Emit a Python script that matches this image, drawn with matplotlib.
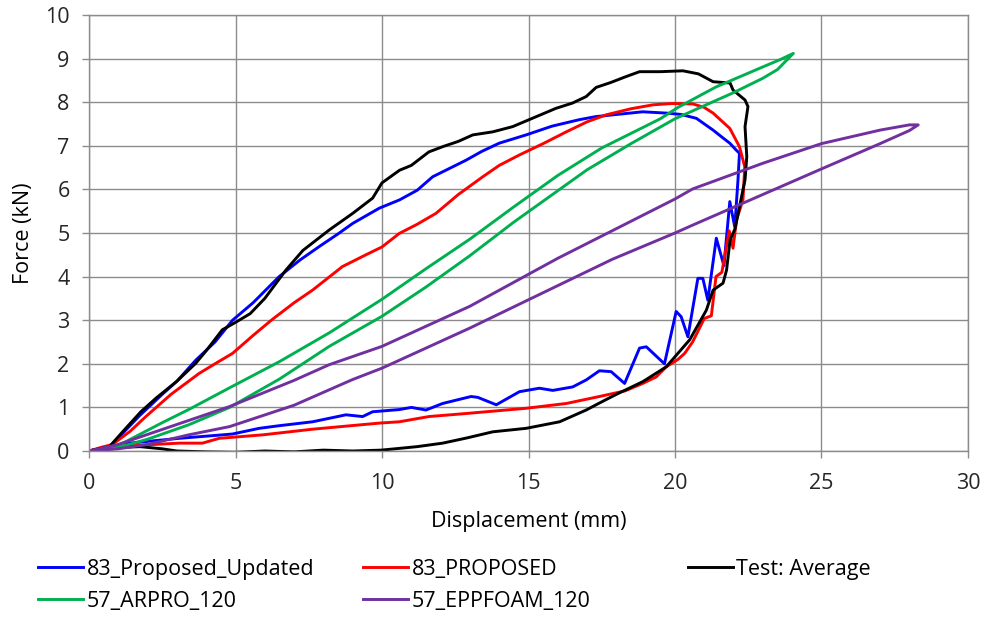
import matplotlib
matplotlib.use("Agg")
import matplotlib.pyplot as plt
from matplotlib import font_manager

# pick a font close to Calibri
names = {f.name for f in font_manager.fontManager.ttflist}
family = "DejaVu Sans"
for cand in ["Liberation Sans Narrow", "Open Sans", "Lato"]:
    if cand in names:
        family = cand
        break
plt.rcParams["font.family"] = family

# --- data ---
# Test: Average (loading then unloading)
test_x = [0, 0.7, 1.2, 1.77, 2.3, 3.0, 3.64, 4.0, 4.55, 5.0, 5.5, 6.0, 6.72, 7.3, 8.2, 9.0, 9.68,
          10.0, 10.6, 11.0, 11.6, 12.07, 12.6, 13.1, 13.78, 14.46, 15.2, 15.94, 16.5, 16.97, 17.31,
          17.8, 18.3, 18.79, 19.5, 20.27, 20.8, 21.3, 21.88, 21.98, 22.39, 22.49, 22.39, 22.45,
          22.39, 22.2, 22.05, 21.88, 21.76, 21.64, 21.3, 21.07, 20.5, 19.7, 18.9, 18.0, 17.42,
          16.97, 16.06, 14.92, 13.78, 12.9, 12.07, 11.2, 10.59, 9.97, 9.0, 8.0, 7.0, 6.0, 5.0,
          4.0, 3.0, 2.5, 1.74, 1.0, 0.5, 0]
test_y = [0, 0.1, 0.48, 0.9, 1.22, 1.6, 2.01, 2.3, 2.78, 2.95, 3.15, 3.5, 4.15, 4.6, 5.07, 5.45, 5.8,
          6.15, 6.44, 6.55, 6.86, 6.98, 7.1, 7.25, 7.32, 7.44, 7.65, 7.86, 7.98, 8.13, 8.34,
          8.45, 8.58, 8.7, 8.7, 8.72, 8.65, 8.47, 8.44, 8.28, 8.05, 7.9, 7.44, 6.75,
          6.22, 5.6, 5.1, 4.84, 4.15, 3.85, 3.69, 3.23, 2.55, 1.93, 1.59, 1.3, 1.1,
          0.94, 0.67, 0.52, 0.44, 0.3, 0.18, 0.1, 0.06, 0.02, 0.0, 0.02, -0.02, 0.0, -0.03,
          -0.02, 0.0, 0.05, 0.1, 0.08, 0.04, 0]

# 83_Proposed_Updated
upd_x = [0, 0.7, 1.0, 1.71, 2.5, 3.0, 3.64, 4.3, 4.9, 5.6, 6.49, 7.2, 7.86, 8.5, 9.0, 9.91, 10.6,
         11.2, 11.73, 12.3, 12.87, 13.4, 14.0, 14.92, 15.8, 16.74, 17.3, 17.88, 18.9, 19.7, 20.2,
         20.73, 21.3, 21.6, 21.87, 22.09, 22.2,
         22.15, 22.04, 21.87, 21.67, 21.41, 21.12, 20.95, 20.78, 20.44, 20.21, 20.04, 19.64,
         19.02, 18.79, 18.28, 17.82, 17.42, 16.97, 16.51, 15.83, 15.37, 14.69, 13.9, 13.27,
         13.04, 12.07, 11.5, 11.0, 10.59, 9.68, 9.34, 8.77, 7.63, 6.49, 5.81, 4.9, 4.55, 3.07,
         1.37, 0]
upd_y = [0, 0.1, 0.3, 0.8, 1.3, 1.6, 2.08, 2.5, 3.0, 3.4, 4.0, 4.38, 4.69, 4.98, 5.22, 5.57, 5.76,
         5.98, 6.29, 6.48, 6.67, 6.87, 7.06, 7.25, 7.45, 7.6, 7.67, 7.71, 7.78, 7.75, 7.72,
         7.63, 7.36, 7.2, 7.06, 6.9, 6.83,
         6.22, 5.14, 5.72, 4.25, 4.88, 3.46, 3.96, 3.96, 2.62, 3.08, 3.2, 2.0,
         2.39, 2.36, 1.55, 1.82, 1.84, 1.63, 1.47, 1.39, 1.44, 1.36, 1.06, 1.23,
         1.25, 1.09, 0.94, 1.0, 0.95, 0.9, 0.79, 0.83, 0.67, 0.58, 0.52, 0.39, 0.37, 0.29,
         0.18, 0]

# 83_PROPOSED
prop_x = [0, 0.4, 0.8, 1.4, 1.94, 2.8, 3.76, 4.3, 4.9, 5.6, 6.26, 7.0, 7.63, 8.65, 9.45, 10.0,
          10.59, 11.2, 11.84, 12.6, 13.44, 14.0, 14.69, 15.5, 16.29, 17.0, 17.65, 18.5, 19.25,
          19.9, 20.61, 21.0, 21.3, 21.87, 22.2, 22.38,
          22.32, 22.1, 21.98, 21.85, 21.6, 21.4, 21.24, 21.0, 20.6, 20.33, 20.1, 19.7, 19.36,
          18.9, 18.3, 17.42, 16.29, 14.92, 12.87, 11.6, 10.59, 9.91, 7.63, 5.92, 4.44, 3.87,
          3.07, 1.94, 0.8, 0]
prop_y = [0, 0.08, 0.15, 0.45, 0.79, 1.3, 1.78, 2.0, 2.24, 2.65, 3.02, 3.4, 3.69, 4.23, 4.5, 4.68,
          4.99, 5.2, 5.45, 5.88, 6.29, 6.55, 6.79, 7.05, 7.32, 7.55, 7.71, 7.85, 7.94,
          7.97, 7.96, 7.88, 7.75, 7.4, 6.98, 6.52,
          5.76, 5.3, 4.65, 5.05, 4.1, 4.0, 3.1, 3.04, 2.5, 2.24, 2.1, 1.93, 1.7,
          1.55, 1.38, 1.25, 1.09, 0.98, 0.86, 0.79, 0.67, 0.64, 0.5, 0.37, 0.29, 0.18,
          0.18, 0.14, 0.1, 0]

# 57_ARPRO_120
arpro_x = [0, 0.8, 1.5, 2.5, 3.4, 4.8, 6.5, 8.2, 10.0, 11.5, 13.0, 14.5, 16.0, 17.5, 19.5, 20.1,
           21.4, 23.0, 23.6, 24.04,
           23.5, 23.0, 22.0, 21.0, 20.0, 18.5, 17.0, 16.0, 14.5, 13.0, 11.5, 10.0, 8.2, 6.5,
           4.8, 3.4, 2.0, 1.0, 0]
arpro_y = [0, 0.05, 0.3, 0.65, 0.95, 1.45, 2.05, 2.71, 3.48, 4.18, 4.86, 5.6, 6.32, 6.95, 7.62, 7.88,
           8.35, 8.81, 8.98, 9.12,
           8.75, 8.55, 8.22, 7.92, 7.62, 7.05, 6.45, 5.97, 5.25, 4.48, 3.76, 3.09, 2.4, 1.65,
           1.0, 0.6, 0.27, 0.08, 0]

# 57_EPPFOAM_120
epp_x = [0, 1.0, 2.0, 3.4, 4.8, 7.0, 8.2, 10.0, 13.0, 16.0, 20.0, 20.6, 23.0, 25.0, 27.0, 28.0,
         28.3,
         28.0, 27.0, 25.0, 20.6, 20.0, 17.87, 13.0, 10.0, 9.0, 7.0, 4.8, 3.4, 2.0, 1.0, 0]
epp_y = [0, 0.15, 0.38, 0.7, 1.02, 1.62, 1.98, 2.4, 3.32, 4.42, 5.78, 6.01, 6.6, 7.05, 7.36, 7.48,
         7.48,
         7.35, 7.05, 6.47, 5.18, 5.0, 4.4, 2.82, 1.9, 1.64, 1.05, 0.56, 0.37, 0.15, 0.05, 0]

series = [
    ("83_Proposed_Updated", upd_x, upd_y, "#0000FF"),
    ("83_PROPOSED", prop_x, prop_y, "#FF0000"),
    ("Test: Average", test_x, test_y, "#000000"),
    ("57_ARPRO_120", arpro_x, arpro_y, "#00B050"),
    ("57_EPPFOAM_120", epp_x, epp_y, "#7030A0"),
]

FS = 15.5

fig = plt.figure(figsize=(9.87, 6.19), dpi=100)
ax = fig.add_axes([89 / 987, 1 - 451 / 619, 879 / 987, 436 / 619])

lines = {}
for name, xs, ys, col in series:
    ln, = ax.plot(xs, ys, color=col, lw=2.1, label=name, solid_joinstyle="round")
    lines[name] = ln

ax.set_xlim(0, 30)
ax.set_ylim(0, 10)
ax.set_xticks(range(0, 31, 5))
ax.set_yticks(range(0, 11))
ax.grid(True, color="#8c8c8c", lw=1)
ax.set_axisbelow(True)
for s in ax.spines.values():
    s.set_color("#8c8c8c")
    s.set_linewidth(1)
ax.tick_params(colors="#8c8c8c", labelcolor="#262626", labelsize=FS, length=5, width=1, pad=9)
ax.tick_params(axis="x", pad=11)
ax.set_xlabel("Displacement (mm)", fontsize=FS, color="#000000", labelpad=12)
ax.set_ylabel("Force (kN)", fontsize=FS, color="#000000", labelpad=8)

# legend laid out as three fixed columns, like the spreadsheet original
cols = [(["83_Proposed_Updated", "57_ARPRO_120"], 38),
        (["83_PROPOSED", "57_EPPFOAM_120"], 363),
        (["Test: Average"], 688)]
for names_, xpx in cols:
    fig.legend([lines[n] for n in names_], names_, loc="upper left",
               bbox_to_anchor=(xpx / 987, 1 - 559 / 619), frameon=False, fontsize=FS,
               handlelength=2.1, handletextpad=0.15, labelspacing=0.5,
               borderpad=0, borderaxespad=0)

fig.savefig("out.png", dpi=100)
